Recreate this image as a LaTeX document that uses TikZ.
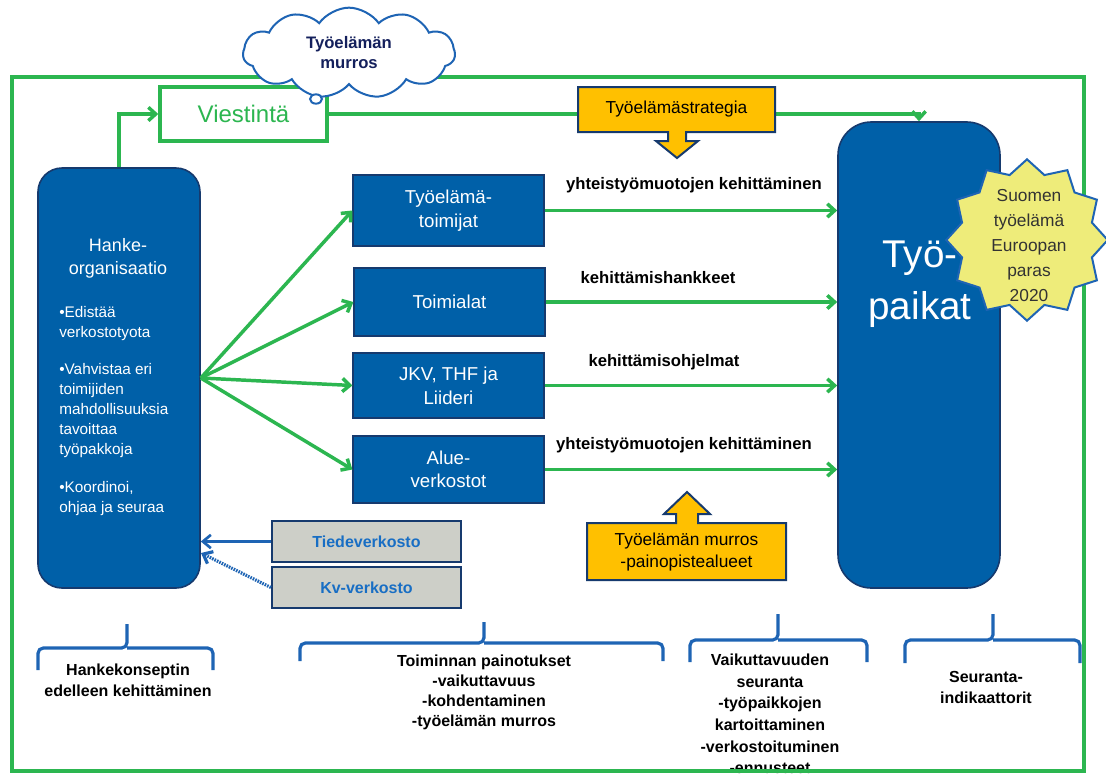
\documentclass[tikz,border=0pt]{standalone}
\usepackage{fontspec}
\setmainfont{Liberation Sans}
\usetikzlibrary{arrows.meta,shapes.geometric,shapes.symbols}
\definecolor{bblue}{RGB}{0,96,168}
\definecolor{bdark}{RGB}{22,58,110}
\definecolor{lgreen}{RGB}{44,182,80}
\definecolor{ygold}{RGB}{255,192,0}
\definecolor{ystar}{RGB}{238,236,122}
\definecolor{lgray}{RGB}{205,207,200}
\definecolor{tblue}{RGB}{24,110,196}
\definecolor{navy}{RGB}{20,32,92}
\definecolor{cblue}{RGB}{30,100,180}
\begin{document}
\begin{tikzpicture}[x=0.75pt,y=-0.75pt,
  gline/.style={draw=lgreen,line width=2.6pt},
  garrow/.style={gline,-{Straight Barb[length=5.5pt,width=10pt]}},
  barrow/.style={draw=cblue,line width=2pt,-{Straight Barb[length=6pt,width=10pt]}},
  bluebox/.style={rectangle,fill=bblue,draw=bdark,line width=1.2pt,text=white,align=center,inner sep=0pt},
  midbox/.style={bluebox,minimum width=143pt,font=\fontsize{14}{18}\selectfont},
  graybox/.style={rectangle,fill=lgray,draw=bdark,line width=1.6pt,text=tblue,font=\bfseries\fontsize{12}{14}\selectfont,minimum width=141.75pt,minimum height=30.75pt,inner sep=0pt},
  lbl/.style={font=\bfseries\fontsize{12.5}{15}\selectfont,inner sep=0pt},
  btxt/.style={font=\bfseries\fontsize{12}{15.5}\selectfont,align=center,inner sep=0pt},
  bracepath/.style={draw=cblue,line width=2.4pt,rounded corners=4pt},
  callout/.style={fill=ygold,draw=bdark,line width=1.5pt,line join=miter},
]
\useasboundingbox (0,0) rectangle (1106,776);
\fill[white] (0,0) rectangle (1106,776);

% bottom texts (under the frame)
\node[btxt] (t1) at (128,680.5) {Hankekonseptin\\edelleen kehittäminen};
\node[btxt,font=\bfseries\fontsize{12}{15}\selectfont] (t2) at (484,692) {Toiminnan painotukset\\-vaikuttavuus\\-kohdentaminen\\-työelämän murros};
\node[btxt,font=\bfseries\fontsize{12}{16.2}\selectfont] (t3) at (770,714) {Vaikuttavuuden\\seuranta\\-työpaikkojen\\kartoittaminen\\-verkostoituminen\\-ennusteet};
\node[btxt] (t4) at (986,687.5) {Seuranta-\\indikaattorit};

% outer frame
\draw[gline] (12,77) rectangle (1084,771);

% braces
\draw[bracepath] (38,670) |- (127,648) -- (127,624) (127,648) -| (213,670);
\draw[bracepath] (300,661) |- (484,643) -- (484,622) (484,643) -| (663,661);
\draw[bracepath] (690,662) |- (778,640) -- (778,614) (778,640) -| (867,662);
\draw[bracepath] (905,663) |- (993,640) -- (993,614) (993,640) -| (1080,663);

% main boxes
\node[bluebox,minimum width=121.5pt,minimum height=315pt,rounded corners=18pt] (hanke) at (119,378) {};
\node[text=white,align=center,font=\fontsize{13.5}{17}\selectfont] (htitle) at (118,258.5) {Hanke-\\organisaatio};
\node[text=white,align=left,anchor=north west,inner sep=0pt,font=\fontsize{11.5}{15}\selectfont] (hbul) at (59,306)
  {•Edistää\\verkostotyota\\[13pt]•Vahvistaa eri\\toimijiden\\mahdollisuuksia\\tavoittaa\\työpakkoja\\[13pt]•Koordinoi,\\ohjaa ja seuraa};

\node[bluebox,minimum width=121.5pt,minimum height=349.5pt,rounded corners=25pt] (typ) at (919,355) {};
\node[text=white,align=center,font=\fontsize{29}{39}\selectfont] (typt) at (920,284) {Työ-\\paikat};

\node[midbox,minimum height=53.25pt] (b1) at (448.5,210.5) {Työelämä-\\toimijat};
\node[midbox,minimum height=51pt] (b2) at (449.5,302) {Toimialat};
\node[midbox,minimum height=48.75pt] (b3) at (448.5,385.5) {JKV, THF ja\\Liideri};
\node[midbox,minimum height=50.25pt] (b4) at (448.5,469.5) {};
\begin{scope}
\clip (353,437) rectangle (544,487);
\node[text=white,align=center,font=\fontsize{14}{17}\selectfont] (b4t) at (448.5,469) {Alue-\\verkostot};
\end{scope}

% Viestinta
\node[draw=lgreen,line width=2.6pt,fill=white,text=lgreen,minimum width=125.25pt,minimum height=40.5pt,inner sep=0pt,font=\fontsize{18}{20}\selectfont] (viest) at (243.5,114) {Viestintä};
\draw[garrow] (hanke.north) |- (viest.west);
\draw[garrow] (viest.east) -| (typ.north);

% arrows hub
\draw[garrow] (hanke.east) -- (b1.west);
\draw[garrow] (hanke.east) -- (b2.west);
\draw[garrow] (hanke.east) -- (b3.west);
\draw[garrow] (hanke.east) -- (b4.west);

\draw[garrow] (b1.east) -- (b1.east -| typ.west);
\draw[garrow] (b2.east) -- (b2.east -| typ.west);
\draw[garrow] (b3.east) -- (b3.east -| typ.west);
\draw[garrow] (b4.east) -- (b4.east -| typ.west);

\node[lbl] (l1) at (694,185) {yhteistyömuotojen kehittäminen};
\node[lbl] (l2) at (658,278) {kehittämishankkeet};
\node[lbl] (l3) at (664,362) {kehittämisohjelmat};
\node[lbl] (l4) at (684,445) {yhteistyömuotojen kehittäminen};

% callouts
\path[callout] (578,87) -- (775,87) -- (775,132) -- (686,132) -- (686,141) -- (698,141) -- (677,158) -- (656,141) -- (668,141) -- (668,132) -- (578,132) -- cycle;
\node[font=\fontsize{13}{16}\selectfont] (strat) at (676.5,109.5) {Työelämästrategia};

\path[callout] (587,523) -- (676,523) -- (676,514) -- (664,514) -- (687,492) -- (710,514) -- (698,514) -- (698,523) -- (786,523) -- (786,580) -- (587,580) -- cycle;
\node[align=center,font=\fontsize{13}{16.5}\selectfont] (murros) at (686.5,552) {Työelämän murros\\-painopistealueet};

% grey boxes
\node[graybox] (tiede) at (366.5,541.5) {Tiedeverkosto};
\node[graybox] (kv) at (366.5,587.5) {Kv-verkosto};
\coordinate (kvend) at (201,553);
\draw[barrow] (tiede.west) -- (tiede.west -| hanke.east);
\draw[barrow,line width=2.4pt,dash pattern=on 1.2pt off 0.8pt] (kv.west) -- (kvend);

% star
\node[star,star points=12,star point ratio=1.2,minimum size=121pt,inner sep=0pt,fill=ystar,draw=cblue,line width=1.5pt] (star) at (1027,240) {};
\node[align=center,text=black!80,font=\fontsize{13}{18.75}\selectfont] (start) at (1029,246) {Suomen\\työelämä\\Euroopan\\paras\\2020};

% cloud
\node[cloud,cloud puffs=11,cloud puff arc=110,cloud ignores aspect,draw=cblue,line width=1.5pt,fill=white,minimum width=159pt,minimum height=68pt,align=center,text=navy,font=\bfseries\fontsize{12.5}{15}\selectfont,inner sep=0pt] (cloud) at (349,53) {Työelämän\\murros};
\draw[draw=cblue,line width=1.5pt,fill=white] (316,99) ellipse [x radius=4.5pt,y radius=3.5pt];
\end{tikzpicture}
\end{document}
